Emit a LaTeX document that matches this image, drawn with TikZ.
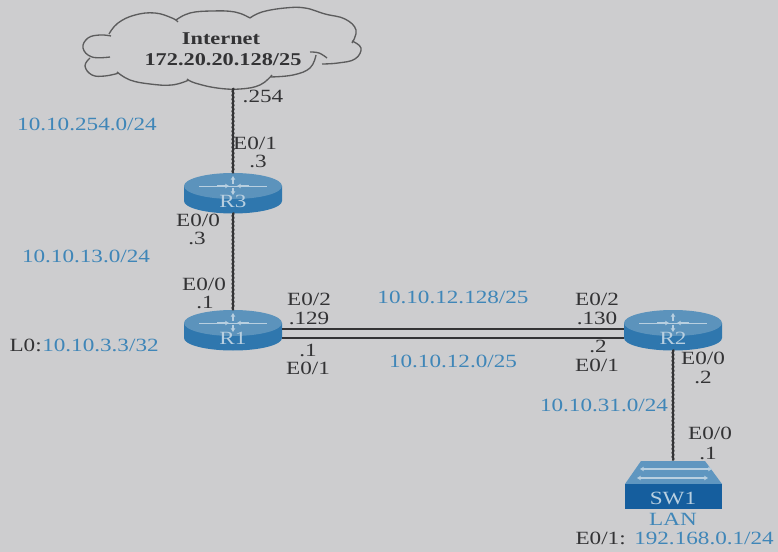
\documentclass[tikz,border=0pt]{standalone}
\usepackage{fontspec}
\setmainfont[FakeStretch=1.24]{Liberation Serif}
\usetikzlibrary{decorations.pathmorphing,arrows.meta}
\definecolor{bgc}{HTML}{CDCDCF}
\definecolor{txt}{HTML}{333335}
\definecolor{net}{HTML}{3F86B8}
\definecolor{rtop}{HTML}{5C93BC}
\definecolor{rbody}{HTML}{2F77AE}
\definecolor{swtop}{HTML}{5F96C0}
\definecolor{swbody}{HTML}{155E9E}
\definecolor{glyph}{HTML}{B8CFE0}
\tikzset{
  x=0.75pt,y=-0.75pt,
  lab/.style={font=\fontsize{14}{16}\selectfont,text=txt,inner sep=0pt},
  netlab/.style={lab,text=net},
  boldlab/.style={lab,font=\fontsize{13.5}{16}\selectfont\bfseries},
  devlab/.style={lab,text=glyph,font=\fontsize{14}{16}\selectfont},
  anchorbox/.style={minimum width=72.75pt,minimum height=29pt,inner sep=0pt},
  serial/.style={draw=txt,line width=1.6pt,decorate,decoration={snake,amplitude=0.35pt,segment length=3pt}},
  plainlink/.style={draw=txt,line width=1.7pt},
  cloudline/.style={draw=txt!80,line width=1pt,line join=round},
  glyphline/.style={draw=glyph,line width=0.6pt},
  glypharrow/.style={draw=glyph,line width=0.9pt,-{Stealth[length=3pt,width=3.5pt]}}
}
\newcommand{\routerat}[4]{% name, x, y, label
  \begin{scope}[shift={(#2,#3)}]
    \fill[rbody] (-49,-7) -- (-49,8) arc[x radius=49,y radius=12.5,start angle=180,end angle=0] -- (49,-7) -- cycle;
    \fill[rtop] (0,-7) ellipse[x radius=49,y radius=13];
    \draw[glyphline] (-34,-7) -- (34,-7);
    \draw[glypharrow] (-16,-7) -- (-4,-7);
    \draw[glypharrow] (16,-7) -- (4,-7);
    \draw[glypharrow] (0,-9) -- (0,-17);
    \draw[glypharrow] (0,-5) -- (0,2);
  \end{scope}
  \node[anchorbox] (#1) at (#2,#3) {};
  \node[devlab] (#1lab) at (#2,#3+8) {#4};
}
\begin{document}
\begin{tikzpicture}
\useasboundingbox (0,0) rectangle (778,552);
\fill[bgc] (0,0) rectangle (778,552);

% cloud
\draw[cloudline]
  plot[smooth,tension=.7] coordinates {(110,57) (92,57) (83,48) (88,38) (100,35) (111,36)}
  plot[smooth,tension=.7] coordinates {(109,34) (118,23) (135,15) (155,13) (172,18) (178,22)}
  plot[smooth,tension=.7] coordinates {(176,20) (190,13) (212,11) (235,12) (250,18)}
  plot[smooth,tension=.7] coordinates {(250,18) (262,12) (285,8) (305,8) (325,14) (345,19) (356,30) (352,43)}
  plot[smooth,tension=.7] coordinates {(352,41) (361,48) (355,59) (338,63) (322,64)}
  plot[smooth,tension=.7] coordinates {(327,58) (319,53) (310,52)}
  plot[smooth,tension=.7] coordinates {(316,55) (310,68) (293,75) (270,77)}
  plot[smooth,tension=.7] coordinates {(272,75) (260,85) (240,89) (217,88) (195,83) (187,79)}
  plot[smooth,tension=.7] coordinates {(189,80) (172,85) (150,84) (130,80) (117,72)}
  plot[smooth,tension=.7] coordinates {(119,73) (105,76) (92,75) (85,66) (90,58)};

\coordinate (cloudb) at (233,88);
\routerat{R3}{233}{193}{R3}
\routerat{R1}{233}{330}{R1}
\routerat{R2}{673}{330}{R2}

% switch
\fill[swtop] (641,461) -- (705,461) -- (722,484) -- (625,484) -- cycle;
\fill[swbody] (625,484) rectangle (722,509);
\draw[glypharrow,<->,>={Stealth[length=3pt,width=3.5pt]}] (637,478) -- (708,478);
\draw[glypharrow,<->,>={Stealth[length=3pt,width=3.5pt]}] (640,469) -- (712,469);
\node[anchor=center,minimum width=72.75pt,minimum height=36pt,inner sep=0pt] (SW1) at (673,485) {};
\node[devlab] (SW1lab) at (673,498) {SW1};

% links
\draw[serial] (cloudb) -- (R3.north);
\draw[serial] (R3.south) -- (R1.north);
\draw[serial] (R2.south) -- (SW1.north);
\draw[plainlink] ([yshift=0.75pt]R1.east) -- ([yshift=0.75pt]R2.west);
\draw[plainlink] ([yshift=-6pt]R1.east) -- ([yshift=-6pt]R2.west);

% cloud text
\node[boldlab] (t1) at (221,39) {Internet};
\node[boldlab] (t2) at (223,60) {172.20.20.128/25};
% labels
\node[lab] (a1) at (263,96) {.254};
\node[netlab] (n1) at (87,124) {10.10.254.0/24};
\node[lab] (a2) at (255,143) {E0/1};
\node[lab] (a3) at (258,161) {.3};
\node[lab] (a4) at (198,220) {E0/0};
\node[lab] (a5) at (197,238) {.3};
\node[netlab] (n2) at (86,256) {10.10.13.0/24};
\node[lab] (a6) at (204,284) {E0/0};
\node[lab] (a7) at (205,302) {.1};
\node[lab] (a8) at (309,299) {E0/2};
\node[lab] (a9) at (309,318) {.129};
\node[lab,anchor=east] (l0) at (42,345) {L0:};
\node[netlab,anchor=west] (n3) at (42,345) {10.10.3.3/32};
\node[lab] (a10) at (308,350) {.1};
\node[lab] (a11) at (308,368) {E0/1};
\node[netlab] (n4) at (453,297) {10.10.12.128/25};
\node[netlab] (n5) at (453,361) {10.10.12.0/25};
\node[lab] (a12) at (597,299) {E0/2};
\node[lab] (a13) at (597,318) {.130};
\node[lab] (a14) at (598,346) {.2};
\node[lab] (a15) at (597,365) {E0/1};
\node[lab] (a16) at (703,358) {E0/0};
\node[lab] (a17) at (703,377) {.2};
\node[netlab] (n6) at (604,405) {10.10.31.0/24};
\node[lab] (a18) at (710,433) {E0/0};
\node[lab] (a19) at (708,453) {.1};
\node[netlab] (n7) at (673,519) {LAN};
\node[lab,anchor=east] (a20) at (626,538) {E0/1:};
\node[netlab,anchor=west] (n8) at (634,538) {192.168.0.1/24};
\end{tikzpicture}
\end{document}
